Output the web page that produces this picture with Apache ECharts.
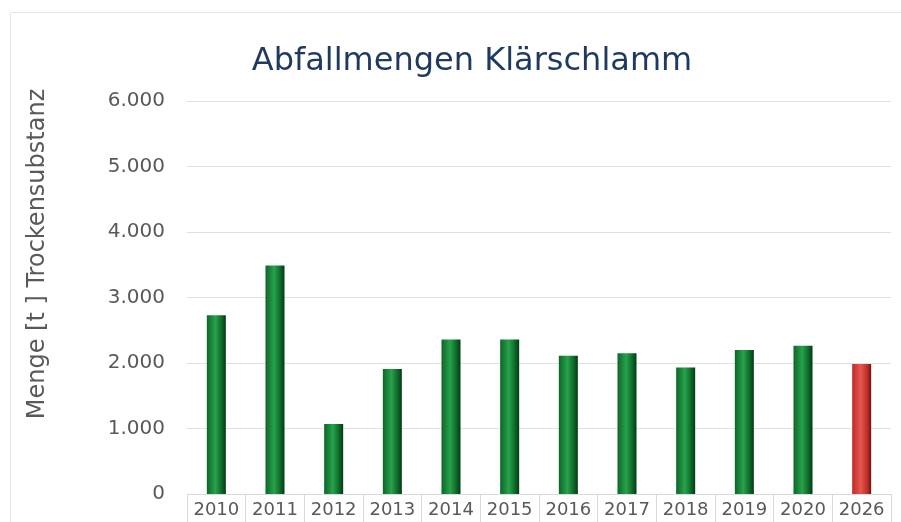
<!DOCTYPE html>
<html>
<head>
<meta charset="utf-8">
<script src="https://cdn.jsdelivr.net/npm/echarts@6/dist/echarts.min.js"></script>
<style>
  html, body { margin: 0; padding: 0; background: #fff; }
  #chart { width: 901px; height: 522px; }
</style>
</head>
<body>
<div id="chart"></div>
<script>
// Daten
const jahre = ['2010', '2011', '2012', '2013', '2014', '2015', '2016', '2017', '2018', '2019', '2020', '2026'];
const mengen = [2730, 3490, 1070, 1910, 2360, 2360, 2110, 2150, 1930, 2200, 2265, 1985];
const prognoseIndex = 11; // 2026 rot dargestellt

const verlauf = (rand, mitte, dunkel) => ({
    type: 'linear', x: 0, y: 0, x2: 1, y2: 0,
    colorStops: [
        { offset: 0, color: rand },
        { offset: 0.45, color: mitte },
        { offset: 0.8, color: rand },
        { offset: 1, color: dunkel }
    ]
});

const gruen = verlauf('#0c6628', '#27a24b', '#053812');
const rot = verlauf('#bd2e2a', '#e55650', '#6a1411');

const chart = echarts.init(document.getElementById('chart'));

chart.setOption({
    backgroundColor: '#fff',
    textStyle: { fontFamily: 'DejaVu Sans' },
    title: {
        text: 'Abfallmengen Klärschlamm',
        left: 467, top: 41, textAlign: 'center',
        textStyle: { fontSize: 32, fontWeight: 'normal', color: '#1f3a5f', fontFamily: 'DejaVu Sans' }
    },
    graphic: [{
        type: 'rect',
        shape: { x: 10.5, y: 12.5, width: 900, height: 520 },
        style: { fill: 'none', stroke: '#e6e6e6', lineWidth: 1 },
        silent: true
    }, {
        // Achsentitel (etwas oberhalb der Mitte wie im Original)
        type: 'text',
        x: 38, y: 254,
        rotation: Math.PI / 2,
        style: {
            text: 'Menge [t ] Trockensubstanz',
            fill: '#595959',
            font: '24px "DejaVu Sans"',
            align: 'center',
            verticalAlign: 'middle'
        },
        silent: true
    }],
    grid: { left: 187, right: 10, top: 101, bottom: 28 },
    xAxis: {
        type: 'category',
        data: jahre,
        axisLine: { lineStyle: { color: '#d9d9d9' } },
        axisTick: { show: true, interval: 0, length: 30, lineStyle: { color: '#d9d9d9' } },
        axisLabel: { interval: 0, hideOverlap: false, color: '#595959', fontSize: 18, margin: 7 }
    },
    yAxis: {
        type: 'value',
        min: 0, max: 6000, interval: 1000,
        axisLine: { show: false },
        axisTick: { show: false },
        axisLabel: {
            color: '#595959', fontSize: 20, margin: 22,
            formatter: v => v === 0 ? '0' : (v / 1000).toFixed(3)
        },
        splitLine: { lineStyle: { color: '#e3e0dc' } }
    },
    series: [{
        type: 'bar',
        barWidth: 19,
        data: mengen.map((v, i) => ({
            value: v,
            itemStyle: { color: i === prognoseIndex ? rot : gruen }
        }))
    }]
});
</script>
</body>
</html>
